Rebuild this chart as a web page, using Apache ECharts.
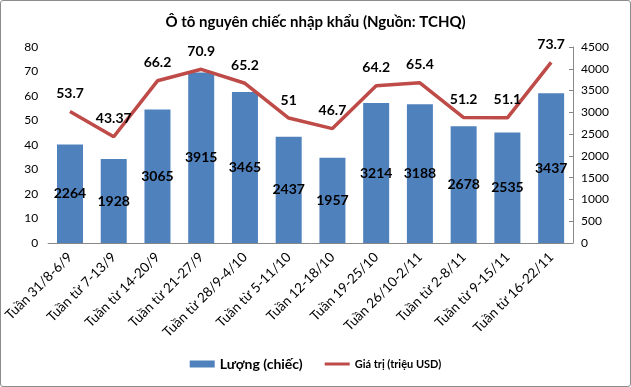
<!DOCTYPE html>
<html><head><meta charset="utf-8">
<script src="https://cdn.jsdelivr.net/npm/echarts@6/dist/echarts.min.js"></script>
<style>html,body{margin:0;padding:0;background:#fff;}#c{width:629px;height:385px;border:1px solid #8c8c8c;border-radius:3px;}</style>
</head><body><div id="c"></div>
<script>
const categories = ["Tuần 31/8-6/9","Tuần từ 7-13/9","Tuần từ 14-20/9","Tuần từ 21-27/9","Tuần từ 28/9-4/10","Tuần từ 5-11/10","Tuần 12-18/10","Tuần 19-25/10","Tuần 26/10-2/11","Tuần từ 2-8/11","Tuần từ 9-15/11","Tuần từ 16-22/11"];
const quantity = [2264,1928,3065,3915,3465,2437,1957,3214,3188,2678,2535,3437];
const value = [53.7,43.37,66.2,70.9,65.2,51,46.7,64.2,65.4,51.2,51.1,73.7];
const leftTicks = {min:0,max:80,interval:10};
const rightTicks = {min:0,max:4500,interval:500};
const FONT = 'Lato, "Open Sans", sans-serif';
const chart = echarts.init(document.getElementById('c'));
chart.setOption({
  animation:false,
  textStyle:{fontFamily:FONT},
  title:{text:'Ô tô nguyên chiếc nhập khẩu (Nguồn: TCHQ)',left:'center',top:9,textStyle:{fontFamily:FONT,fontSize:15,fontWeight:'bold',color:'#000'}},
  grid:{left:37,right:57,top:46,bottom:143},
  legend:{bottom:10,left:'center',itemGap:22,itemWidth:25,itemHeight:7,
    data:[{name:'Lượng (chiếc)',icon:'rect',textStyle:{fontSize:14,fontWeight:'bold',color:'#000'}},
          {name:'Giá trị (triệu USD)',icon:'path://M0,0L100,0L100,12L0,12Z',textStyle:{fontSize:11,fontWeight:'bold',color:'#000'}}],
    textStyle:{fontFamily:FONT}},
  xAxis:{type:'category',data:categories,
    axisLine:{lineStyle:{color:'#888'}},axisTick:{show:false},
    axisLabel:{rotate:45,fontSize:13.5,color:'#000',interval:0,margin:12,fontFamily:FONT}},
  yAxis:[
    {type:'value',position:'left',min:leftTicks.min,max:leftTicks.max,interval:leftTicks.interval,
     axisLine:{show:false},axisTick:{show:false},splitLine:{show:false},
     axisLabel:{fontSize:12,color:'#000',margin:10,fontFamily:FONT}},
    {type:'value',position:'right',min:rightTicks.min,max:rightTicks.max,interval:rightTicks.interval,
     axisLine:{show:true,lineStyle:{color:'#888'}},axisTick:{show:true,inside:true,length:4,lineStyle:{color:'#888'}},splitLine:{show:false},
     axisLabel:{fontSize:12,color:'#000',margin:8,fontFamily:FONT,formatter:v=>String(v)}}
  ],
  series:[
    {name:'Lượng (chiếc)',type:'bar',yAxisIndex:1,data:quantity,barWidth:26,
     itemStyle:{color:'#4F81BD'},
     label:{show:true,position:'inside',color:'#000',fontWeight:'bold',fontSize:14,fontFamily:FONT}},
    {name:'Giá trị (triệu USD)',type:'line',yAxisIndex:0,data:value,symbol:'circle',symbolSize:0.1,
     lineStyle:{color:'#BE4B48',width:3.5},itemStyle:{color:'#BE4B48'},
     label:{show:true,position:'top',distance:11,color:'#000',fontWeight:'bold',fontSize:14,fontFamily:FONT}}
  ]
});
</script></body></html>
